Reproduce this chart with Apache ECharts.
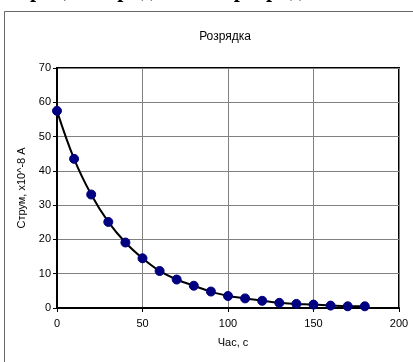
<!DOCTYPE html>
<html><head><meta charset="utf-8">
<script src="https://cdn.jsdelivr.net/npm/echarts@6/dist/echarts.min.js"></script>
<style>html,body{margin:0;padding:0;background:#fff}#c{width:413px;height:362px}</style>
</head><body><div id="c"></div>
<script>
const timeValues = [0,10,20,30,40,50,60,70,80,90,100,110,120,130,140,150,160,170,180];
const currentValues = [57.5,43.5,33.1,25.1,19.1,14.5,10.8,8.3,6.5,4.8,3.5,2.8,2.1,1.5,1.2,1.0,0.7,0.5,0.5];
const chartTitle = 'Розрядка';
const xAxisName = 'Час, с';
const yAxisName = 'Струм, x10^-8 A';
const headerText = 'в процесі заряджання і розряджання';

const chart = echarts.init(document.getElementById('c'), null, {renderer:'canvas'});
const font = '"Liberation Sans", Arial, sans-serif';
chart.setOption({
  animation:false,
  backgroundColor:'#fff',
  title:{text:chartTitle,left:220,textAlign:'center',top:26,textStyle:{fontFamily:font,fontSize:12,fontWeight:'normal',color:'#000'}},
  graphic:[
    {type:'rect',shape:{x:4.5,y:11.5,width:420,height:360},style:{fill:'none',stroke:'#666',lineWidth:1},z:-1},
    {type:'text',x:0,y:2,style:{text:headerText,font:'bold 22px "Liberation Serif", serif',fill:'#000',verticalAlign:'bottom'}}
  ],
  grid:{left:57,right:14,top:68,bottom:54,show:true,borderColor:'#000',borderWidth:2,backgroundColor:'#fff'},
  xAxis:{type:'value',min:0,max:200,interval:50,
    name:xAxisName,nameLocation:'middle',nameGap:29,
    nameTextStyle:{fontFamily:font,fontSize:11,color:'#000',padding:[0,0,0,10]},
    axisLine:{show:true,lineStyle:{color:'#000',width:2}},
    axisTick:{show:true,length:4,lineStyle:{color:'#000'}},
    axisLabel:{fontFamily:font,fontSize:11,color:'#000',margin:10},
    splitLine:{show:true,lineStyle:{color:'#808080',width:1}}},
  yAxis:{type:'value',min:0,max:70,interval:10,
    name:yAxisName,nameLocation:'middle',nameGap:30,nameRotate:90,
    nameTextStyle:{fontFamily:font,fontSize:11,color:'#000'},
    axisLine:{show:true,lineStyle:{color:'#000',width:2}},
    axisTick:{show:true,length:4,lineStyle:{color:'#000'}},
    axisLabel:{fontFamily:font,fontSize:11,color:'#000',margin:6},
    splitLine:{show:true,lineStyle:{color:'#808080',width:1}}},
  series:[{type:'line',data:timeValues.map((t,i)=>[t,currentValues[i]]),
    smooth:0.4,symbol:'circle',symbolSize:9,
    lineStyle:{color:'#000',width:2},
    itemStyle:{color:'#000080',borderColor:'#000080'}}]
});
</script></body></html>
